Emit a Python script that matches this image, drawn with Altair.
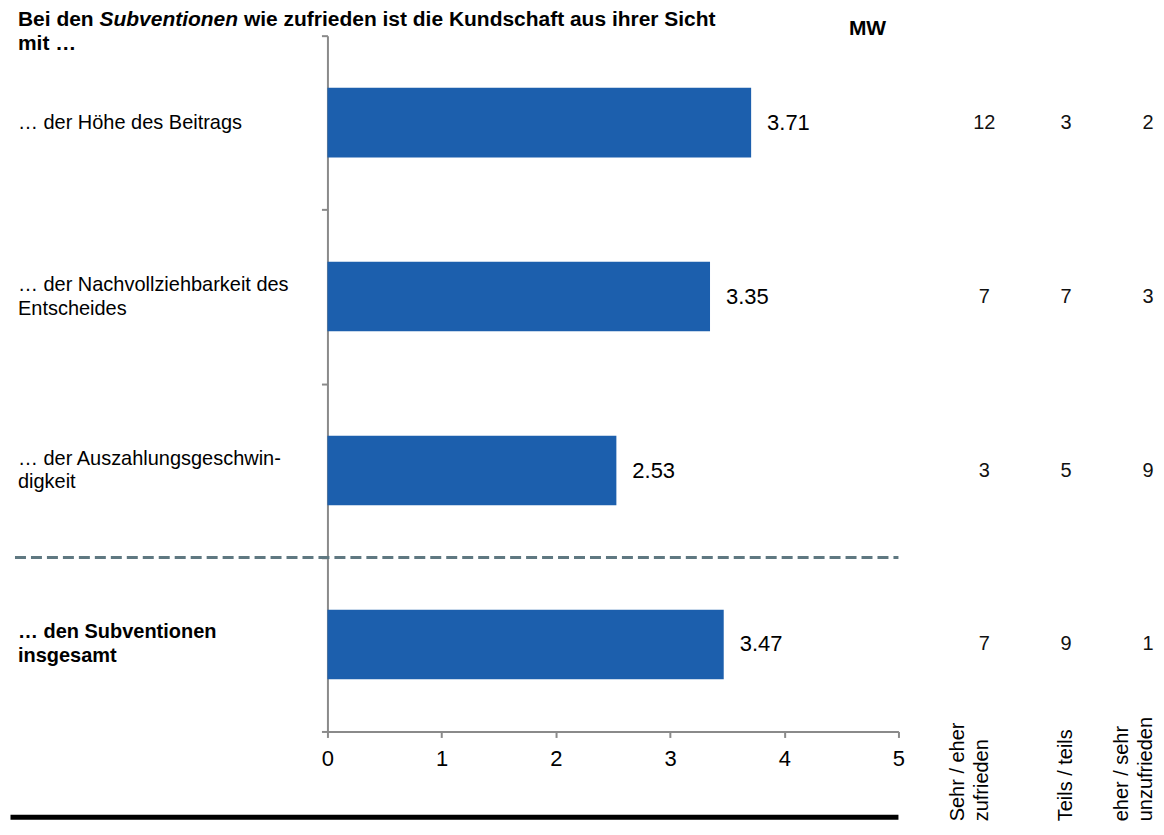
import altair as alt
import pandas as pd

# ---------------- data ----------------
categories = [
    "… der Höhe des Beitrags",
    "… der Nachvollziehbarkeit des|Entscheides",
    "… der Auszahlungsgeschwin-|digkeit",
    "… den Subventionen|insgesamt",
]
bold_category = categories[3]
mean_values = [3.71, 3.35, 2.53, 3.47]

col_labels = ["Sehr / eher|zufrieden", "Teils / teils", "eher / sehr|unzufrieden"]
n_zufrieden = [12, 7, 3, 7]
n_teils = [3, 7, 5, 9]
n_unzufrieden = [2, 3, 9, 1]

x_ticks = [0, 1, 2, 3, 4, 5]

title_a = "Bei den"
title_b = "Subventionen"
title_c = "wie zufrieden ist die Kundschaft aus ihrer Sicht"
title_line2 = "mit …"
mw_label = "MW"

# ---------------- frames ----------------
bars_df = pd.DataFrame({"cat": categories, "mw": mean_values})
bars_df["multi"] = bars_df["cat"].str.contains("|", regex=False)
bars_df["bold"] = bars_df["cat"] == bold_category

table_rows = []
for i, c in enumerate(categories):
    for col, vals in zip(col_labels, [n_zufrieden, n_teils, n_unzufrieden]):
        table_rows.append({"cat": c, "col": col, "n": vals[i]})
table_df = pd.DataFrame(table_rows)
cols_df = pd.DataFrame({"col": col_labels})
cols_df["multi"] = cols_df["col"].str.contains("|", regex=False)

FONT = "Liberation Sans, Arial, sans-serif"
BAR = "#1c5fad"
GRAY = "#8a8a8a"
W, H = 572, 697

# bands fill the whole step so that the axis ticks fall between categories;
# the bars only take 40 % of each band
yscale = alt.Scale(domain=categories, paddingInner=0, paddingOuter=0)

y_axis = alt.Axis(
    title=None,
    labels=False,
    tickBand="extent",
    tickSize=6,
    tickWidth=2,
    tickColor=GRAY,
    domainColor=GRAY,
    domainWidth=2,
    grid=False,
)


def y_left(**kw):
    return alt.Y("cat:N", sort=categories, scale=yscale, axis=y_axis, **kw)


x_axis = alt.Axis(
    title=None,
    values=x_ticks,
    format="d",
    labelFontSize=22,
    labelColor="#000000",
    labelPadding=11,
    labelFlush=False,
    tickSize=6,
    tickWidth=2,
    tickColor=GRAY,
    domainColor=GRAY,
    domainWidth=2,
    grid=False,
)

xscale = alt.Scale(domain=[0, 5], nice=False)

base = alt.Chart(bars_df)

bars = base.mark_bar(color=BAR, height={"band": 0.4}).encode(
    y=y_left(),
    x=alt.X("mw:Q", scale=xscale, axis=x_axis),
)

values_txt = base.mark_text(
    align="left", baseline="middle", dx=16, fontSize=22, color="#000000"
).encode(
    y=y_left(),
    x=alt.X("mw:Q", scale=xscale, axis=x_axis),
    text=alt.Text("mw:Q", format=".2f"),
)


def cat_labels(test, baseline, weight):
    return (
        base.transform_filter(test)
        .transform_calculate(lines="split(datum.cat, '|')")
        .mark_text(
            align="left",
            baseline=baseline,
            fontSize=20,
            lineHeight=24,
            fontWeight=weight,
            color="#000000",
        )
        .encode(y=y_left(), x=alt.value(-310), text=alt.Text("lines:N"))
    )


lab_single = cat_labels("!datum.multi", "middle", "normal")
lab_multi = cat_labels("datum.multi && !datum.bold", "line-bottom", "normal")
lab_bold = cat_labels("datum.bold", "line-bottom", "bold")

# separator on the boundary below the 3rd category
sep_df = pd.DataFrame({"cat": [categories[2]]})
separator = alt.Chart(sep_df).mark_rule(
    color="#5f7881", strokeWidth=3, strokeDash=[11, 5]
).encode(
    y=y_left(bandPosition=1),
    x=alt.value(-313),
    x2=alt.value("width"),
)

one = pd.DataFrame({"k": [0]})
bottom_line = alt.Chart(one).mark_rule(color="#000000", strokeWidth=5).encode(
    y=alt.value(783), x=alt.value(-317.5), x2=alt.value("width")
)


def title_piece(text, x, y, baseline="top", style="normal", align="left"):
    return alt.Chart(one).mark_text(
        text=text,
        align=align,
        baseline=baseline,
        fontSize=21,
        fontWeight="bold",
        fontStyle=style,
        color="#000000",
    ).encode(x=alt.value(x), y=alt.value(y))


t1 = title_piece(title_a, -310, -27)
t2 = title_piece(title_b, -228.3, -27, style="italic")
t3 = title_piece(title_c, -83.6, -27)
t4 = title_piece(title_line2, -310, -3)
t5 = title_piece(mw_label, 541, -1, baseline="alphabetic", align="center")

left = alt.layer(
    bars, values_txt, lab_single, lab_multi, lab_bold,
    separator, bottom_line, t1, t2, t3, t4, t5
).properties(width=W, height=H)

xcol = alt.Scale(type="point", domain=col_labels, padding=0)

table_txt = alt.Chart(table_df).mark_text(
    fontSize=20, baseline="middle", align="center", color="#111111"
).encode(
    y=alt.Y("cat:N", sort=categories, scale=yscale, axis=None),
    x=alt.X("col:N", sort=col_labels, scale=xcol, axis=None),
    text=alt.Text("n:Q"),
)


def col_heads(test, dy):
    return (
        alt.Chart(cols_df)
        .transform_filter(test)
        .transform_calculate(lines="split(datum.col, '|')")
        .mark_text(
            angle=270,
            align="left",
            baseline="middle",
            fontSize=20,
            lineHeight=24,
            dy=dy,
            color="#000000",
        )
        .encode(
            x=alt.X("col:N", sort=col_labels, scale=xcol, axis=None),
            y=alt.value(787),
            text=alt.Text("lines:N"),
        )
    )


right = alt.layer(
    table_txt, col_heads("datum.multi", -26), col_heads("!datum.multi", 0)
).properties(width=164, height=H)

chart = (
    alt.hconcat(left, right, spacing=86)
    .properties(bounds="flush", padding=0, autosize=alt.AutoSizeParams(type="pad"))
    .configure(font=FONT)
    .configure_view(stroke=None)
)

chart.save("out.html", embed_options={"renderer": "svg", "actions": False})
